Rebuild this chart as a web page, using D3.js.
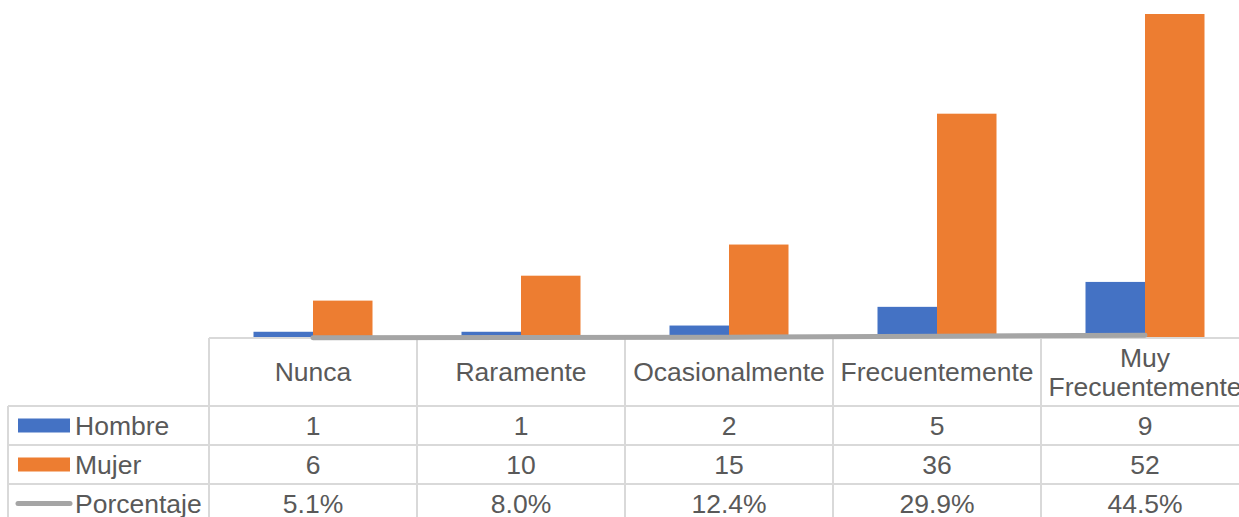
<!DOCTYPE html>
<html><head><meta charset="utf-8">
<script src="https://cdn.jsdelivr.net/npm/d3@7"></script>
<style>
html,body{margin:0;padding:0;background:#fff;}
svg{display:block;font-family:"Liberation Sans",Arial,sans-serif;}
</style></head>
<body><svg id="chart" width="1239" height="517"></svg>
<script>
const categories = ["Nunca", "Raramente", "Ocasionalmente", "Frecuentemente", "Muy Frecuentemente"];
const seriesNames = ["Hombre", "Mujer", "Porcentaje"];
const hombre = [1, 1, 2, 5, 9];
const mujer = [6, 10, 15, 36, 52];
const porcentaje = [5.1, 8.0, 12.4, 29.9, 44.5];
const porcentajeLabels = ["5.1%", "8.0%", "12.4%", "29.9%", "44.5%"];
const colors = {Hombre: "#4472C4", Mujer: "#ED7D31", Porcentaje: "#A5A5A5"};

const svg = d3.select("#chart");
const W = 1239, H = 517;
const tableLeft = 209, colW = 208, baseY = 338;
const legendLeft = 8;
const headerBottom = 406, rowH = 39;
const textColor = "#595959", gridColor = "#D9D9D9";

const x = d3.scaleBand().domain(categories).range([tableLeft, tableLeft + colW * categories.length]).padding(0);
const y = d3.scaleLinear().domain([0, 52]).range([baseY, 14]);
const barW = 59.5;
const x1 = d3.scaleBand().domain(["Hombre", "Mujer"]).range([0, barW * 2]).padding(0);

// bars
const barData = [];
categories.forEach((c, i) => {
  barData.push({cat: c, s: "Hombre", v: hombre[i]});
  barData.push({cat: c, s: "Mujer", v: mujer[i]});
});
svg.append("g").selectAll("rect").data(barData).join("rect")
  .attr("x", d => x(d.cat) + x.bandwidth() / 2 - barW + x1(d.s))
  .attr("y", d => y(d.v))
  .attr("width", x1.bandwidth())
  .attr("height", d => y(0) - y(d.v))
  .attr("fill", d => colors[d.s]);

// table grid
const g = svg.append("g").attr("stroke", gridColor).attr("stroke-width", 2);
g.append("line").attr("x1", tableLeft).attr("x2", W).attr("y1", baseY).attr("y2", baseY);
[0, 1, 2].forEach(r => {
  const yy = headerBottom + r * rowH;
  g.append("line").attr("x1", legendLeft).attr("x2", W).attr("y1", yy).attr("y2", yy);
});
g.append("line").attr("x1", legendLeft).attr("x2", legendLeft).attr("y1", headerBottom).attr("y2", H);
categories.forEach(c => {
  g.append("line").attr("x1", x(c)).attr("x2", x(c)).attr("y1", baseY).attr("y2", H);
});

// line series
const line = d3.line().x((d, i) => x(categories[i]) + x.bandwidth() / 2).y(d => y(d / 100));
svg.append("path").datum(porcentaje).attr("d", line)
  .attr("fill", "none").attr("stroke", colors.Porcentaje).attr("stroke-width", 5).attr("stroke-linecap", "round");

// header labels with wrapping
const fs = 26.5;
categories.forEach(c => {
  const t = svg.append("text").attr("x", x(c) + x.bandwidth() / 2).attr("text-anchor", "middle")
    .attr("fill", textColor).style("font-size", fs + "px");
  t.text(c);
  let lines = [c];
  if (t.node().getComputedTextLength() > x.bandwidth() - 4) lines = c.split(" ");
  t.text(null);
  const lh = 29;
  const cy = (baseY + headerBottom) / 2;
  lines.forEach((l, k) => {
    t.append("tspan").attr("x", x(c) + x.bandwidth() / 2)
      .attr("y", cy + (k - (lines.length - 1) / 2) * lh).attr("dy", "0.35em").text(l);
  });
});

// data rows
const rows = [
  {name: "Hombre", vals: hombre.map(String)},
  {name: "Mujer", vals: mujer.map(String)},
  {name: "Porcentaje", vals: porcentajeLabels}
];
rows.forEach((r, ri) => {
  const cy = headerBottom + ri * rowH + rowH / 2;
  if (r.name === "Porcentaje") {
    svg.append("line").attr("x1", 18).attr("x2", 70).attr("y1", cy).attr("y2", cy)
      .attr("stroke", colors[r.name]).attr("stroke-width", 5).attr("stroke-linecap", "round");
  } else {
    svg.append("rect").attr("x", 18).attr("y", cy - 7).attr("width", 52).attr("height", 14).attr("fill", colors[r.name]);
  }
  svg.append("text").attr("x", 75).attr("y", cy).attr("dy", "0.35em")
    .attr("fill", textColor).style("font-size", fs + "px").text(r.name);
  r.vals.forEach((v, i) => {
    svg.append("text").attr("x", x(categories[i]) + x.bandwidth() / 2).attr("y", cy).attr("dy", "0.35em")
      .attr("text-anchor", "middle").attr("fill", textColor).style("font-size", fs + "px").text(v);
  });
});
</script></body></html>
